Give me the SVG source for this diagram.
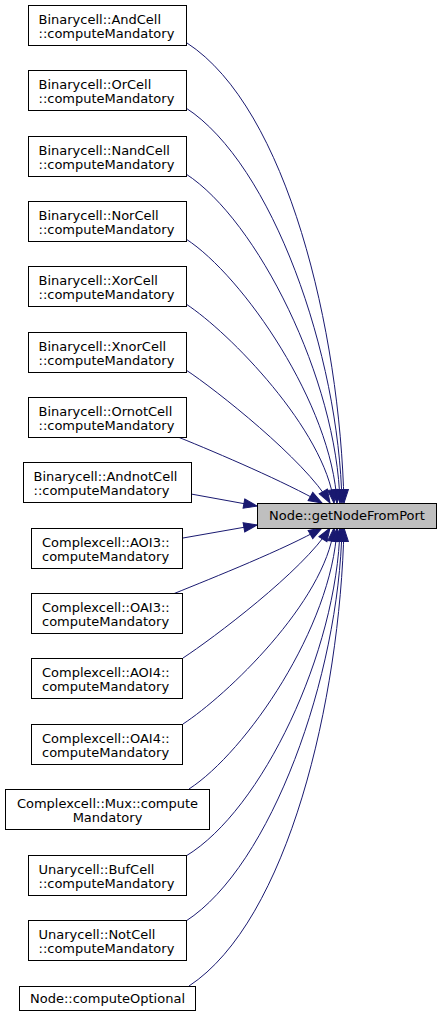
<svg xmlns="http://www.w3.org/2000/svg" width="441" height="1018" viewBox="0 0 441 1018">
<style>
.n rect{fill:#ffffff;stroke:#000000;stroke-width:1}
.n text{font-family:"DejaVu Sans",sans-serif;font-size:13px;fill:#000000}
.c{text-anchor:middle}
#target rect{fill:#bfbfbf}
.e path{fill:none;stroke:#191970;stroke-width:1;marker-end:url(#ah)}
</style>
<defs>
<marker id="ah" markerUnits="userSpaceOnUse" markerWidth="16" markerHeight="12" viewBox="0 -6 14 12" refX="13.3" refY="0" orient="auto">
<path d="M0,-4.7 L13.3,0 L0,4.7 z" fill="#191970" stroke="#191970" stroke-width="1"/>
</marker>
</defs>
<g class="e" id="edges">
<path d="M187,43 C287,108 340,330 344,503"/>
<path d="M186,108 C272,164 339,354 342,503"/>
<path d="M186,174 C257,220 337,379 340,503"/>
<path d="M186,239 C243,276 332,405 337,503"/>
<path d="M186,304 C229,332 325,430 334,503"/>
<path d="M186,370 C215,389 305,460 330,503"/>
<path d="M178,437 C220,454 285,482 322,503"/>
<path d="M191,494 L257,506"/>
<path d="M183,538 L257,525"/>
<path d="M173,594 C215,577 285,549 322,528"/>
<path d="M183,658 C212,639 303,571 330,528"/>
<path d="M183,724 C226,696 325,602 334,528"/>
<path d="M189,789 C246,752 332,627 337,528"/>
<path d="M186,856 C262,810 337,652 340,528"/>
<path d="M186,921 C271,866 339,676 342,528"/>
<path d="M189,986 C288,921 340,700 344,528"/>
</g>
<g class="n" id="target"><rect x="257.5" y="503.5" width="179" height="25"/><text class="c" x="347" y="520">Node::getNodeFromPort</text></g>
<g class="n" id="n0"><rect x="28.5" y="5.5" width="158" height="40"/><text x="38.5" y="23.5">Binarycell::AndCell</text><text x="38.5" y="38">::computeMandatory</text></g>
<g class="n" id="n1"><rect x="28.5" y="70.5" width="158" height="40"/><text x="38.5" y="88.5">Binarycell::OrCell</text><text x="38.5" y="103">::computeMandatory</text></g>
<g class="n" id="n2"><rect x="28.5" y="136.5" width="158" height="40"/><text x="38.5" y="154.5">Binarycell::NandCell</text><text x="38.5" y="169">::computeMandatory</text></g>
<g class="n" id="n3"><rect x="28.5" y="201.5" width="158" height="40"/><text x="38.5" y="219.5">Binarycell::NorCell</text><text x="38.5" y="234">::computeMandatory</text></g>
<g class="n" id="n4"><rect x="28.5" y="266.5" width="158" height="40"/><text x="38.5" y="284.5">Binarycell::XorCell</text><text x="38.5" y="299">::computeMandatory</text></g>
<g class="n" id="n5"><rect x="28.5" y="332.5" width="158" height="40"/><text x="38.5" y="350.5">Binarycell::XnorCell</text><text x="38.5" y="365">::computeMandatory</text></g>
<g class="n" id="n6"><rect x="28.5" y="397.5" width="158" height="40"/><text x="38.5" y="415.5">Binarycell::OrnotCell</text><text x="38.5" y="430">::computeMandatory</text></g>
<g class="n" id="n7"><rect x="23.5" y="462.5" width="168" height="40"/><text x="33.5" y="480.5">Binarycell::AndnotCell</text><text x="33.5" y="495">::computeMandatory</text></g>
<g class="n" id="n8"><rect x="31.5" y="528.5" width="151" height="40"/><text x="42" y="546.5">Complexcell::AOI3::</text><text x="42" y="561">computeMandatory</text></g>
<g class="n" id="n9"><rect x="31.5" y="593.5" width="151" height="40"/><text x="42" y="611.5">Complexcell::OAI3::</text><text x="42" y="626">computeMandatory</text></g>
<g class="n" id="n10"><rect x="31.5" y="658.5" width="151" height="40"/><text x="42" y="676.5">Complexcell::AOI4::</text><text x="42" y="691">computeMandatory</text></g>
<g class="n" id="n11"><rect x="31.5" y="724.5" width="151" height="40"/><text x="42" y="742.5">Complexcell::OAI4::</text><text x="42" y="757">computeMandatory</text></g>
<g class="n" id="n12"><rect x="5.5" y="789.5" width="204" height="40"/><text class="c" x="107.5" y="807.5">Complexcell::Mux::compute</text><text class="c" x="107.5" y="822">Mandatory</text></g>
<g class="n" id="n13"><rect x="28.5" y="855.5" width="158" height="40"/><text x="38.5" y="873.5">Unarycell::BufCell</text><text x="38.5" y="888">::computeMandatory</text></g>
<g class="n" id="n14"><rect x="28.5" y="920.5" width="158" height="40"/><text x="38.5" y="938.5">Unarycell::NotCell</text><text x="38.5" y="953">::computeMandatory</text></g>
<g class="n" id="n15"><rect x="19.5" y="986.5" width="176" height="24"/><text class="c" x="107.5" y="1002.5">Node::computeOptional</text></g>
</svg>
